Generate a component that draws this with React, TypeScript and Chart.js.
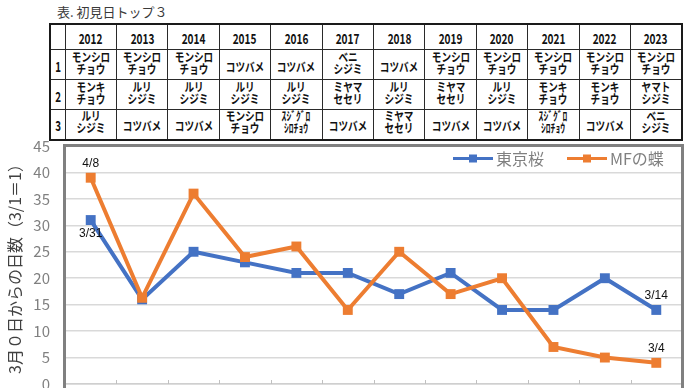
import React, { useEffect, useRef } from "react";
import { Chart, registerables } from "chart.js";

Chart.register(...registerables);

// ---------- data ----------
const years = ["2012", "2013", "2014", "2015", "2016", "2017", "2018", "2019", "2020", "2021", "2022", "2023"];
const tokyoSakura = [31, 16, 25, 23, 21, 21, 17, 21, 14, 14, 20, 14];
const mfButterfly = [39, 16.3, 36, 24, 26, 14, 25, 17, 20, 7, 5, 4];
const tokyoLabels = ["3/31", "", "", "", "", "", "", "", "", "", "", "3/14"];
const mfLabels = ["4/8", "", "", "", "", "", "", "", "", "", "", "3/4"];
const seriesNames = ["東京桜", "MFの蝶"];
const yTitle = "3月０日からの日数（3/1＝1）";
const tableTitle = "表. 初見日トップ３";
const rankLabels = ["1", "2", "3"];
const rank1 = ["モンシロ\nチョウ", "モンシロ\nチョウ", "モンシロ\nチョウ", "コツバメ", "コツバメ", "ベニ\nシジミ", "コツバメ", "モンシロ\nチョウ", "モンシロ\nチョウ", "モンシロ\nチョウ", "モンシロ\nチョウ", "モンシロ\nチョウ"];
const rank2 = ["モンキ\nチョウ", "ルリ\nシジミ", "ルリ\nシジミ", "ルリ\nシジミ", "ルリ\nシジミ", "ミヤマ\nセセリ", "ルリ\nシジミ", "ミヤマ\nセセリ", "ルリ\nシジミ", "モンキ\nチョウ", "モンキ\nチョウ", "ヤマト\nシジミ"];
const rank3 = ["ルリ\nシジミ", "コツバメ", "コツバメ", "モンシロ\nチョウ", "ｽｼﾞｸﾞﾛ\nｼﾛﾁｮｳ", "コツバメ", "ミヤマ\nセセリ", "コツバメ", "コツバメ", "ｽｼﾞｸﾞﾛ\nｼﾛﾁｮｳ", "コツバメ", "ベニ\nシジミ"];
const rankRows = [rank1, rank2, rank3];

const BLUE = "#4472C4";
const ORANGE = "#ED7D31";
const JP = '"Noto Sans CJK JP", "Noto Sans", sans-serif';

// ---------- table ----------
const tdBase: React.CSSProperties = {
  border: "1px solid #2a2a2a",
  padding: 0,
  textAlign: "center",
  verticalAlign: "middle",
  fontFamily: JP,
  fontWeight: 700,
  color: "#111",
  overflow: "hidden",
  whiteSpace: "nowrap",
};

function Squeeze({ text, size, scale }: { text: string; size: number; scale: number }) {
  return (
    <span
      style={{
        display: "inline-block",
        whiteSpace: "pre-line",
        fontSize: size,
        lineHeight: `${size}px`,
        transform: `scaleX(${scale})`,
      }}
    >
      {text}
    </span>
  );
}

function RankTable() {
  const colW = 617 / 12;
  return (
    <table
      style={{
        position: "absolute",
        left: 49,
        top: 23,
        width: 634,
        borderCollapse: "collapse",
        tableLayout: "fixed",
        border: "2px solid #1a1a1a",
      }}
    >
      <colgroup>
        <col style={{ width: 15 }} />
        {years.map((y) => (
          <col key={y} style={{ width: colW }} />
        ))}
      </colgroup>
      <tbody>
        <tr style={{ height: 23 }}>
          <td style={tdBase}></td>
          {years.map((y) => (
            <td key={y} style={tdBase}>
              <Squeeze text={y} size={14} scale={0.72} />
            </td>
          ))}
        </tr>
        {rankRows.map((row, r) => (
          <tr key={r} style={{ height: 30 }}>
            <td style={tdBase}>
              <Squeeze text={rankLabels[r]} size={14} scale={0.7} />
            </td>
            {row.map((name, i) => (
              <td key={i} style={tdBase}>
                <Squeeze text={name} size={12} scale={0.8} />
              </td>
            ))}
          </tr>
        ))}
      </tbody>
    </table>
  );
}

// ---------- chart plugins ----------
const framePlugin = {
  id: "frame",
  afterDraw(chart: any) {
    const { ctx, chartArea } = chart;
    const xs = chart.scales.x;
    ctx.save();
    ctx.strokeStyle = "#c0c0c0";
    ctx.lineWidth = 1;
    for (let i = 1; i < years.length; i++) {
      const x = Math.round((xs.getPixelForValue(i - 1) + xs.getPixelForValue(i)) / 2) + 0.5;
      ctx.beginPath();
      ctx.moveTo(x, chartArea.bottom - 4);
      ctx.lineTo(x, chartArea.bottom);
      ctx.stroke();
    }
    ctx.strokeStyle = "#808080";
    ctx.lineWidth = 3;
    ctx.strokeRect(chartArea.left - 0.5, chartArea.top - 0.5, chartArea.right - chartArea.left + 1, chartArea.bottom - chartArea.top + 30);
    ctx.restore();
  },
};

const labelPlugin = {
  id: "pointLabels",
  afterDatasetsDraw(chart: any) {
    const { ctx } = chart;
    ctx.save();
    ctx.font = '12px "Liberation Sans", Arial, sans-serif';
    ctx.fillStyle = "#111";
    ctx.textAlign = "center";
    ctx.textBaseline = "middle";
    chart.data.datasets.forEach((ds: any, di: number) => {
      const meta = chart.getDatasetMeta(di);
      const labels: string[] = ds.pointLabels || [];
      const sides: string[] = ds.pointLabelSides || [];
      meta.data.forEach((pt: any, i: number) => {
        const t = labels[i];
        if (!t) return;
        const dy = sides[i] === "below" ? 14 : -14;
        ctx.fillText(t, pt.x, pt.y + dy);
      });
    });
    ctx.restore();
  },
};

const legendPlugin = {
  id: "customLegend",
  afterDraw(chart: any) {
    const { ctx, chartArea } = chart;
    ctx.save();
    ctx.font = `16px ${JP}`;
    ctx.textBaseline = "middle";
    ctx.textAlign = "left";
    let x = 453;
    const y = chartArea.top + 12.5;
    chart.data.datasets.forEach((ds: any) => {
      ctx.strokeStyle = ds.borderColor;
      ctx.lineWidth = 3;
      ctx.beginPath();
      ctx.moveTo(x, y);
      ctx.lineTo(x + 40, y);
      ctx.stroke();
      ctx.fillStyle = ds.borderColor;
      ctx.fillRect(x + 16, y - 4, 8, 8);
      ctx.fillStyle = "#808080";
      ctx.fillText(ds.label, x + 43, y + 0.5);
      const w = ctx.measureText(ds.label).width;
      x = x + 43 + w + 23;
    });
    ctx.restore();
  },
};

function LineChart() {
  const ref = useRef<HTMLCanvasElement>(null);
  useEffect(() => {
    const chart = new Chart(ref.current as HTMLCanvasElement, {
      type: "line",
      data: {
        labels: years,
        datasets: [
          {
            label: seriesNames[0],
            data: tokyoSakura,
            borderColor: BLUE,
            backgroundColor: BLUE,
            borderWidth: 4,
            pointStyle: "rect",
            pointRadius: 7,
            pointBorderWidth: 0,
            tension: 0,
            order: 2,
            pointLabels: tokyoLabels,
            pointLabelSides: ["below", "", "", "", "", "", "", "", "", "", "", "above"],
          } as any,
          {
            label: seriesNames[1],
            data: mfButterfly,
            borderColor: ORANGE,
            backgroundColor: ORANGE,
            borderWidth: 4,
            pointStyle: "rect",
            pointRadius: 7,
            pointBorderWidth: 0,
            tension: 0,
            order: 1,
            pointLabels: mfLabels,
            pointLabelSides: ["above", "", "", "", "", "", "", "", "", "", "", "above"],
          } as any,
        ],
      },
      options: {
        responsive: false,
        animation: false,
        layout: { padding: { left: 0, right: 8, top: 0, bottom: 0 } },
        plugins: {
          legend: { display: false },
          tooltip: { enabled: false },
        },
        scales: {
          x: {
            type: "category",
            offset: true,
            grid: { display: false },
            border: { display: true, color: "#cfcfcf", width: 1.5 },
            ticks: { display: false },
            afterFit: (s: any) => {
              s.height = 10;
            },
          },
          y: {
            min: 0,
            max: 45,
            ticks: {
              stepSize: 5,
              color: "#808080",
              font: { size: 15, family: JP },
              padding: 15,
            },
            grid: { color: "#d9d9d9", lineWidth: 1.5, drawTicks: false },
            border: { display: false },
            title: {
              display: true,
              text: yTitle,
              color: "#404040",
              font: { size: 16, family: JP },
              padding: { top: 5, bottom: 0 },
            },
            afterFit: (s: any) => {
              s.width = 65;
            },
          },
        },
      } as any,
      plugins: [framePlugin, labelPlugin, legendPlugin],
    });
    return () => chart.destroy();
  }, []);
  return (
    <canvas
      ref={ref}
      width={690}
      height={286}
      style={{ position: "absolute", left: 0, top: 122, width: 690, height: 286 }}
    />
  );
}

export default function App() {
  return (
    <div
      style={{
        position: "absolute",
        left: 0,
        top: 0,
        width: 690,
        height: 388,
        overflow: "hidden",
        background: "#fff",
      }}
    >
      <div
        style={{
          position: "absolute",
          left: 57,
          top: 4,
          fontFamily: JP,
          fontSize: 13,
          lineHeight: "16px",
          color: "#3a3a3a",
          whiteSpace: "nowrap",
        }}
      >
        {tableTitle}
      </div>
      <RankTable />
      <LineChart />
    </div>
  );
}
